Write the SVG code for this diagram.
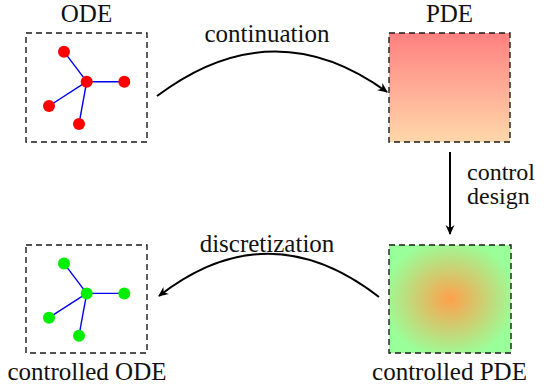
<svg xmlns="http://www.w3.org/2000/svg" width="544" height="390" viewBox="0 0 544 390">
<defs>
<linearGradient id="pdeGrad" x1="0" y1="0" x2="0" y2="1">
<stop offset="0" stop-color="#ff8080"/>
<stop offset="1" stop-color="#ffd8aa"/>
</linearGradient>
<radialGradient id="ctrlGrad" cx="0.5" cy="0.5" r="0.55">
<stop offset="0" stop-color="#ffa04c"/>
<stop offset="1" stop-color="#99ff99"/>
</radialGradient>
<marker id="arr" markerWidth="12" markerHeight="12" refX="0" refY="0" viewBox="-10 -5 12 10" orient="auto" markerUnits="userSpaceOnUse">
<path d="M1,0 L-9,-4.5 L-6,0 L-9,4.5 Z" fill="#000"/>
</marker>
</defs>
<style>
.box{fill:none;stroke:#1a1a1a;stroke-width:1.4;stroke-dasharray:6,4}
.edge{stroke:#0000ee;stroke-width:1.4}
.lbl{font-family:'Liberation Serif','Times New Roman',serif;font-size:25px;fill:#111}
.sm{font-size:24px}
.conn{fill:none;stroke:#000;stroke-width:2}
</style>

<g id="ode">
<rect class="box" x="26" y="33" width="121" height="109"/>
<g class="edge">
<line x1="86.7" y1="81.7" x2="64" y2="51.7"/>
<line x1="86.7" y1="81.7" x2="124.3" y2="81.7"/>
<line x1="86.7" y1="81.7" x2="49" y2="106"/>
<line x1="86.7" y1="81.7" x2="79" y2="124"/>
</g>
<g fill="#ff0000">
<circle cx="86.7" cy="81.7" r="6"/>
<circle cx="64" cy="51.7" r="6"/>
<circle cx="124.3" cy="81.7" r="6"/>
<circle cx="49" cy="106" r="6"/>
<circle cx="79" cy="124" r="6"/>
</g>
<text class="lbl" x="86.5" y="22" text-anchor="middle">ODE</text>
</g>

<g id="pde">
<rect x="389" y="33" width="121" height="109" fill="url(#pdeGrad)"/>
<rect class="box" x="389" y="33" width="121" height="109"/>
<text class="lbl" x="449.5" y="22" text-anchor="middle">PDE</text>
</g>

<g id="controlled-pde">
<rect x="389" y="245" width="122" height="108" fill="url(#ctrlGrad)"/>
<rect class="box" x="389" y="245" width="122" height="108"/>
<text class="lbl" x="449.5" y="380" text-anchor="middle">controlled PDE</text>
</g>

<g id="controlled-ode">
<rect class="box" x="26" y="245" width="121" height="108"/>
<g class="edge" transform="translate(0,211.7)">
<line x1="86.7" y1="81.7" x2="64" y2="51.7"/>
<line x1="86.7" y1="81.7" x2="124.3" y2="81.7"/>
<line x1="86.7" y1="81.7" x2="49" y2="106"/>
<line x1="86.7" y1="81.7" x2="79" y2="124"/>
</g>
<g fill="#00ee00" transform="translate(0,211.7)">
<circle cx="86.7" cy="81.7" r="6"/>
<circle cx="64" cy="51.7" r="6"/>
<circle cx="124.3" cy="81.7" r="6"/>
<circle cx="49" cy="106" r="6"/>
<circle cx="79" cy="124" r="6"/>
</g>
<text class="lbl" x="87" y="380" text-anchor="middle">controlled ODE</text>
</g>

<g id="connectors">
<path class="conn" d="M157,96 Q273,9 387,92" marker-end="url(#arr)"/>
<text class="lbl" x="267" y="42" text-anchor="middle">continuation</text>
<path class="conn" d="M450,152 L450,234" marker-end="url(#arr)"/>
<text class="lbl sm" x="467" y="180">control</text>
<text class="lbl sm" x="467" y="204">design</text>
<path class="conn" d="M379,297 Q268,211 159,296" marker-end="url(#arr)"/>
<text class="lbl" x="267" y="252" text-anchor="middle">discretization</text>
</g>
</svg>
